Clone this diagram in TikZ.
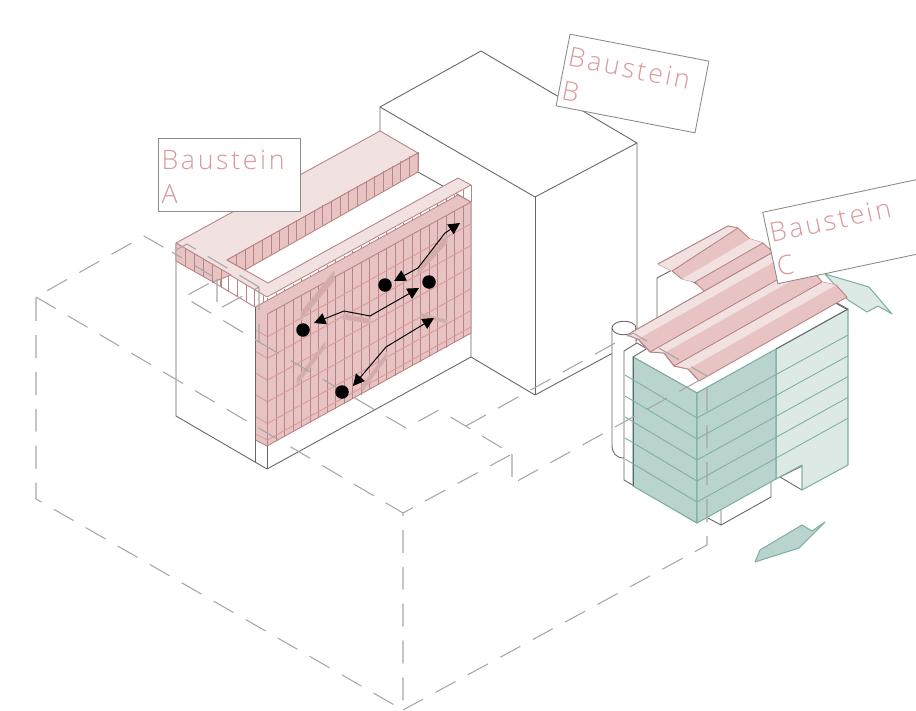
\documentclass[tikz,border=0pt]{standalone}
\usepackage{fontspec}
\newfontfamily\labelfont[LetterSpace=10]{Open Sans Light}
\usetikzlibrary{arrows.meta}
\definecolor{pinkfill}{HTML}{E7C3C3}
\definecolor{pinklight}{HTML}{F2E1E1}
\definecolor{pinkline}{HTML}{B98484}
\definecolor{pinkgrid}{HTML}{D99A9A}
\definecolor{greenfill}{HTML}{B9D3CE}
\definecolor{greenlight}{HTML}{DCE9E5}
\definecolor{greenline}{HTML}{7FB0A3}
\definecolor{labelpink}{HTML}{D99A9A}
\newcommand{\labeltext}[1]{\rule{0pt}{14pt}Baustein\\#1}
\tikzset{
  solidline/.style={draw=black!60,line width=0.5pt,line join=round},
  dashline/.style={draw=black!35,line width=0.6pt,line join=round,dash pattern=on 13pt off 8pt},
  pinkbox/.style={draw=pinkline,fill=pinkfill,line width=0.5pt,line join=round},
  pinkband/.style={draw=pinkline,fill=pinklight,line width=0.5pt,line join=round},
  shadebox/.style={draw=pinkline!60,fill=pinkline!40!pinkfill,line width=0.3pt,line join=round},
  greenbox/.style={draw=greenline,fill=greenfill,line width=0.6pt,line join=round},
  greenband/.style={draw=greenline,fill=greenlight,line width=0.6pt,line join=round},
  labelbox/.style={draw=black!45,fill=white,line width=0.5pt,text=labelpink,font=\labelfont\fontsize{15.2}{19.4}\selectfont,
    minimum height=1.46cm,inner sep=1.5pt,align=left},
  blackdot/.style={circle,fill=black,inner sep=0pt,minimum size=0.27cm},
  flowline/.style={draw=black,line width=0.55pt,{Triangle[length=2.3mm,width=2.3mm]}-{Triangle[length=2.3mm,width=2.3mm]}}
}
\begin{document}
\begin{tikzpicture}[x=0.02cm,y=-0.02cm]
\useasboundingbox (0,0) rectangle (916,710);

% Baustein B
\draw[solidline,fill=white] (380,107) -- (481,51) -- (637,143) -- (637,340) -- (535,395) -- (471,357) -- (380,300) -- cycle;
\draw[solidline] (380,107) -- (535,197) -- (637,143);
\draw[solidline] (535,197) -- (535,395);

% Baustein A
\draw[solidline,fill=white] (176,244) -- (176,416) -- (267,469) -- (471,357) -- (471,202) -- (418,172) -- cycle;
\draw[solidline] (267,445) -- (267,469);
\draw[pinkband] (176,243) -- (380,131) -- (418,153) -- (227,260) -- (268,283) -- (458,178) -- (471,185) -- (267,297) -- cycle;
\draw[pinkbox] (227,260) -- (418,153) -- (418,172) -- (245,270) -- cycle;
\foreach \k in {0,...,20} \draw[pinkline,line width=0.5pt] ({245+8.65*\k},{249.5-4.9*\k}) -- ({245+8.65*\k},{270-4.95*\k});
\draw[pinkline,line width=0.5pt] (236,255) -- (236,265);
\foreach \k in {0,...,5} \draw[pinkline,line width=0.5pt] ({220+8.7*\k},{269+5.2*\k}) -- ({220+8.7*\k},{286+5.2*\k});
\draw[pinkline,line width=0.5pt] (213,282) -- (255,307);
\draw[pinkbox] (176,243) -- (231,275) -- (213,282) -- (176,261) -- cycle;
\foreach \k in {1,...,5} \draw[pinkline,line width=0.5pt] ({176+9*\k},{243+5.4*\k}) -- ({176+9*\k},{261+5.4*\k});
\foreach \k in {0,...,23} \draw[pinkline,line width=0.4pt] ({267.5+8.5*\k},{298-4.7*\k}) -- ({267.5+8.5*\k},{314-4.68*\k});
\draw[pinkline,line width=0.5pt] (471,185) -- (471,202);

% wall
\draw[pinkbox] (255.5,307) -- (458,195) -- (471,202) -- (471,333) -- (267,446) -- (255.5,440) -- cycle;
\foreach \k in {1,...,23} \draw[pinkline,line width=0.4pt] ({267.5+8.5*\k},{314-4.68*\k}) -- ({267.5+8.5*\k},{446-4.68*\k});
\foreach \k in {1,...,5} {
  \draw[pinkgrid,line width=0.5pt] (267.5,{315+21.7*\k}) -- (471,{202+21.7*\k});
  \draw[pinkgrid,line width=0.5pt] (255.5,{308+21.7*\k}) -- (267.5,{315+21.7*\k});
}
\draw[pinkgrid,line width=0.5pt] (267.5,440) -- (471,327);
\draw[pinkgrid,line width=0.5pt] (255.5,434) -- (267.5,440);
\draw[pinkline,line width=0.6pt] (267.5,314) -- (267.5,446);
\draw[pinkline,line width=0.5pt] (267.5,314) -- (471,202);
\draw[solidline] (255.5,307) -- (255.5,463);

% sun shades
\draw[shadebox] (334,271) -- (334,281) -- (301,320) -- (301,312) -- cycle;
\draw[shadebox] (325,342) -- (325,348) -- (297,385) -- (297,378) -- cycle;
\draw[shadebox] (387,352) -- (387,358) -- (362,392) -- (362,385) -- cycle;
\draw[shadebox] (343,314) -- (370,319) -- (370,324) -- (343,319) -- cycle;
\draw[shadebox] (421,313) -- (447,320) -- (447,323) -- (421,317) -- cycle;
\draw[shadebox] (447,235) -- (418,267) -- (418,275) -- (447,243) -- cycle;

% Baustein C
\draw[solidline,fill=white] (657,278) -- (672,270) -- (720,297) -- (657,330) -- cycle;
\draw[greenband] (825,274) -- (869,287) -- (892,314) -- (878,306) -- (867,312) -- (848,300) -- cycle;
\draw[greenbox] (755,562) -- (760,550) -- (802,525) -- (812,531) -- (825,522) -- (799,548) -- cycle;
\draw[solidline] (721,510) -- (721,525) -- (771,497) -- (771,480);
\draw[solidline] (708,518) -- (721,525);
\draw[solidline] (780,477) -- (802,490);
\draw[solidline] (780,477) -- (802,466);
\draw[solidline,fill=white] (612,328) -- (612,445) .. controls (612,453) and (616,458) .. (624,458) -- (636,458) -- (636,328);
\draw[solidline,fill=white] (624,328) ellipse (12 and 6.8);
\draw[solidline,fill=white] (624,351) -- (637,343) -- (700,379) -- (697,523) -- (624,480) -- cycle;
\draw[solidline,fill=white] (633,357) -- (697,393) -- (848,310) -- (776,270) -- cycle;
\draw[greenband] (776,349) -- (848,309) -- (848,465) -- (802,490) -- (802,465) -- (776,479) -- cycle;
\draw[greenbox] (633,357) -- (697,393) -- (697,523) -- (633,486) -- cycle;
\draw[greenbox] (697,393) -- (776,349) -- (776,479) -- (697,523) -- cycle;
\draw[solidline] (633,357) -- (633,486);
\draw[solidline] (776,349) -- (848,309) -- (837,303);
\foreach \k in {1,...,5} {
  \draw[greenline,line width=0.5pt] (625,{375+21*(\k-1)}) -- (697,{418+21*(\k-1)}) -- (848,{335+20.8*(\k-1)});
}

% roof, small part
\draw[pinkbox] (658,264) -- (728,226) -- (738,228) -- (750,239) -- (763,243) -- (775,254) -- (705,292) -- (695,282) -- (682,279) -- (672,271) -- cycle;
\fill[pinklight] (658,264) -- (728,226) -- (738,228) -- (672,271) -- cycle;
\fill[pinklight] (682,279) -- (750,239) -- (763,243) -- (695,282) -- cycle;
\draw[pinkline,line width=0.5pt] (658,264) -- (728,226) -- (738,228);
\draw[pinkline,line width=0.5pt] (672,271) -- (738,228);
\draw[pinkline,line width=0.5pt] (695,282) -- (763,243);
% roof, large part
\draw[pinkbox] (627,335) -- (638,339) -- (650,352) -- (664,353) -- (674,366) -- (688,369) -- (699,381) -- (847,297) -- (836,285) -- (822,282) -- (812,269) -- (798,268) -- (786,255) -- (775,251) -- cycle;
\fill[pinklight] (627,335) -- (638,339) -- (786,255) -- (775,251) -- cycle;
\fill[pinklight] (650,352) -- (664,353) -- (812,269) -- (798,268) -- cycle;
\fill[pinklight] (674,366) -- (688,369) -- (836,285) -- (822,282) -- cycle;
\draw[pinkline,line width=0.5pt] (627,335) -- (775,251);
\draw[pinkline,line width=0.5pt] (650,352) -- (798,268);
\draw[pinkline,line width=0.5pt] (674,366) -- (822,282);
\draw[pinkline,line width=0.5pt] (627,335) -- (638,339) -- (650,352) -- (664,353) -- (674,366) -- (688,369) -- (699,381);

% ground outline
\draw[dashline] (259,287) -- (187,244) -- (172,252) -- (144,236) -- (36,297) -- (36,499) -- (403,710);
\draw[dashline] (36,297) -- (403,513) -- (403,710);
\draw[dashline] (403,710) -- (707,545) -- (707,376);
\draw[dashline] (259,287) -- (259,342) -- (184,297) -- (217,279) -- (172,252);
\draw[dashline] (217,279) -- (217,310) -- (259,287);
\draw[dashline] (259,342) -- (406,428) -- (439,410) -- (512,454) -- (403,513);
\draw[dashline] (512,454) -- (512,484) -- (707,376);
\draw[dashline] (466,426) -- (633,333) -- (707,376);

% circulation
\node[blackdot] (dotone) at (385,285) {};
\node[blackdot] (dottwo) at (429,282) {};
\node[blackdot] (dotthree) at (303,330) {};
\node[blackdot] (dotfour) at (342,392) {};
\coordinate (endone) at (394,281);
\coordinate (endtwo) at (460,223);
\coordinate (endthree) at (314,323);
\coordinate (endfour) at (419,288);
\coordinate (endfive) at (353,386);
\coordinate (endsix) at (434,318);
\draw[flowline] (endone) -- (418,268) -- (445,233) -- (endtwo);
\draw[flowline] (endthree) -- (344,311) -- (370,316) -- (endfour);
\draw[flowline] (endfive) -- (386,347) -- (endsix);

% labels
\node[labelbox,minimum width=2.84cm,text width=2.7cm] (labela) at (229,174.5) {\labeltext{A}};
\node[labelbox,minimum width=2.83cm,text width=2.7cm,rotate=-11] (labelb) at (632.5,83.5) {\labeltext{B}};
\node[labelbox,minimum width=3.4cm,text width=3.3cm,rotate=12] (labelc) at (853.6,230.3) {\labeltext{C}};
\end{tikzpicture}
\end{document}
